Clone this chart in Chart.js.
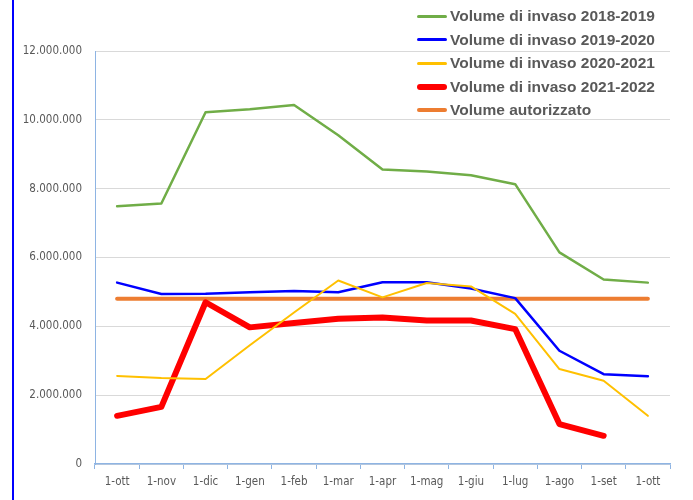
<!DOCTYPE html>
<html>
<head>
<meta charset="utf-8">
<script src="https://cdn.jsdelivr.net/npm/chart.js@4.4.1/dist/chart.umd.min.js"></script>
<style>
    html, body { margin: 0; padding: 0; background: #fff; }
    #wrap { position: relative; width: 693px; height: 500px; overflow: hidden; }
    #border { position: absolute; left: 12px; top: 0; width: 2px; height: 500px; background: #0000ff; }
    #legend { position: absolute; left: 417px; top: 3px; font-family: 'Liberation Sans', sans-serif; font-weight: bold; font-size: 15px; color: #595959; }
    .item { height: 23.5px; line-height: 23.5px; white-space: nowrap; }
    .swatch { display: inline-block; width: 30px; vertical-align: middle; margin-right: 3px; }
    .txt { display: inline-block; transform-origin: left center; vertical-align: middle; }
</style>
</head>
<body>
<div id="wrap">
    <canvas id="chart" width="693" height="500"></canvas>
    <div id="border"></div>
    <div id="legend"></div>
</div>
<script>
const months = ['1-ott', '1-nov', '1-dic', '1-gen', '1-feb', '1-mar', '1-apr', '1-mag', '1-giu', '1-lug', '1-ago', '1-set', '1-ott'];

const vol2018 = [7490000, 7570000, 10220000, 10310000, 10430000, 9550000, 8560000, 8500000, 8390000, 8130000, 6150000, 5360000, 5270000];
const vol2019 = [5270000, 4940000, 4950000, 4990000, 5030000, 4990000, 5280000, 5280000, 5100000, 4820000, 3290000, 2610000, 2550000];
const vol2020 = [2560000, 2500000, 2470000, 3450000, 4400000, 5330000, 4840000, 5260000, 5160000, 4360000, 2760000, 2420000, 1400000];
const vol2021 = [1400000, 1660000, 4700000, 3970000, 4100000, 4220000, 4260000, 4170000, 4170000, 3920000, 1160000, 820000, null];
const volAutorizzato = [4800000, 4800000, 4800000, 4800000, 4800000, 4800000, 4800000, 4800000, 4800000, 4800000, 4800000, 4800000, 4800000];

const yTicks = [0, 2000000, 4000000, 6000000, 8000000, 10000000, 12000000];

function formatIt(v) {
    return String(v).replace(/\B(?=(\d{3})+(?!\d))/g, '.');
}

const tickFont = { family: 'Liberation Sans Narrow, DejaVu Sans Condensed, Liberation Sans', size: 11.5 };

const datasets = [
    { label: 'Volume di invaso 2018-2019', data: vol2018, borderColor: '#70ad47', borderWidth: 2.5, order: 2 },
    { label: 'Volume di invaso 2019-2020', data: vol2019, borderColor: '#0000ff', borderWidth: 2.5, order: 1 },
    { label: 'Volume di invaso 2020-2021', data: vol2020, borderColor: '#ffc000', borderWidth: 2, order: 0 },
    { label: 'Volume di invaso 2021-2022', data: vol2021, borderColor: '#ff0000', borderWidth: 6, order: 3 },
    { label: 'Volume autorizzato', data: volAutorizzato, borderColor: '#ed7d31', borderWidth: 4, order: 4 }
].map(d => Object.assign(d, { fill: false, pointRadius: 0, tension: 0, borderCapStyle: 'round', borderJoinStyle: 'round' }));

// html legend, squeezed a bit to the narrow look of the original
const legend = document.getElementById('legend');
datasets.forEach(d => {
    const row = document.createElement('div');
    row.className = 'item';
    const sw = document.createElement('span');
    sw.className = 'swatch';
    sw.style.height = Math.max(3, d.borderWidth) + 'px';
    sw.style.borderRadius = '3px';
    sw.style.background = d.borderColor;
    const txt = document.createElement('span');
    txt.className = 'txt';
    txt.textContent = d.label;
    row.appendChild(sw);
    row.appendChild(txt);
    legend.appendChild(row);
});
const first = legend.querySelector('.txt');
const squeeze = 205 / first.getBoundingClientRect().width;
legend.querySelectorAll('.txt').forEach(t => { t.style.transform = 'scaleX(' + squeeze + ')'; });

new Chart(document.getElementById('chart'), {
    type: 'line',
    data: { labels: months, datasets: datasets },
    options: {
        responsive: false,
        animation: false,
        layout: { padding: { left: 0, right: 23, top: 51, bottom: 0 } },
        plugins: { legend: { display: false }, tooltip: { enabled: false } },
        scales: {
            x: {
                offset: true,
                grid: { offset: true, drawOnChartArea: false, drawTicks: true, tickLength: 5, color: '#8eb4e3' },
                border: { color: '#8eb4e3', width: 1.5 },
                ticks: { color: '#595959', font: tickFont, padding: 6, maxRotation: 0, autoSkip: false },
                afterFit: s => { s.height = 36; }
            },
            y: {
                min: 0,
                max: 12000000,
                afterBuildTicks: s => { s.ticks = yTicks.map(v => ({ value: v })); },
                grid: { color: '#d9d9d9', drawTicks: false, lineWidth: 1 },
                border: { color: '#8eb4e3', width: 1 },
                ticks: { color: '#595959', font: tickFont, padding: 13, callback: v => formatIt(v) },
                afterFit: s => { s.width = 95; }
            }
        }
    }
});
</script>
</body>
</html>
